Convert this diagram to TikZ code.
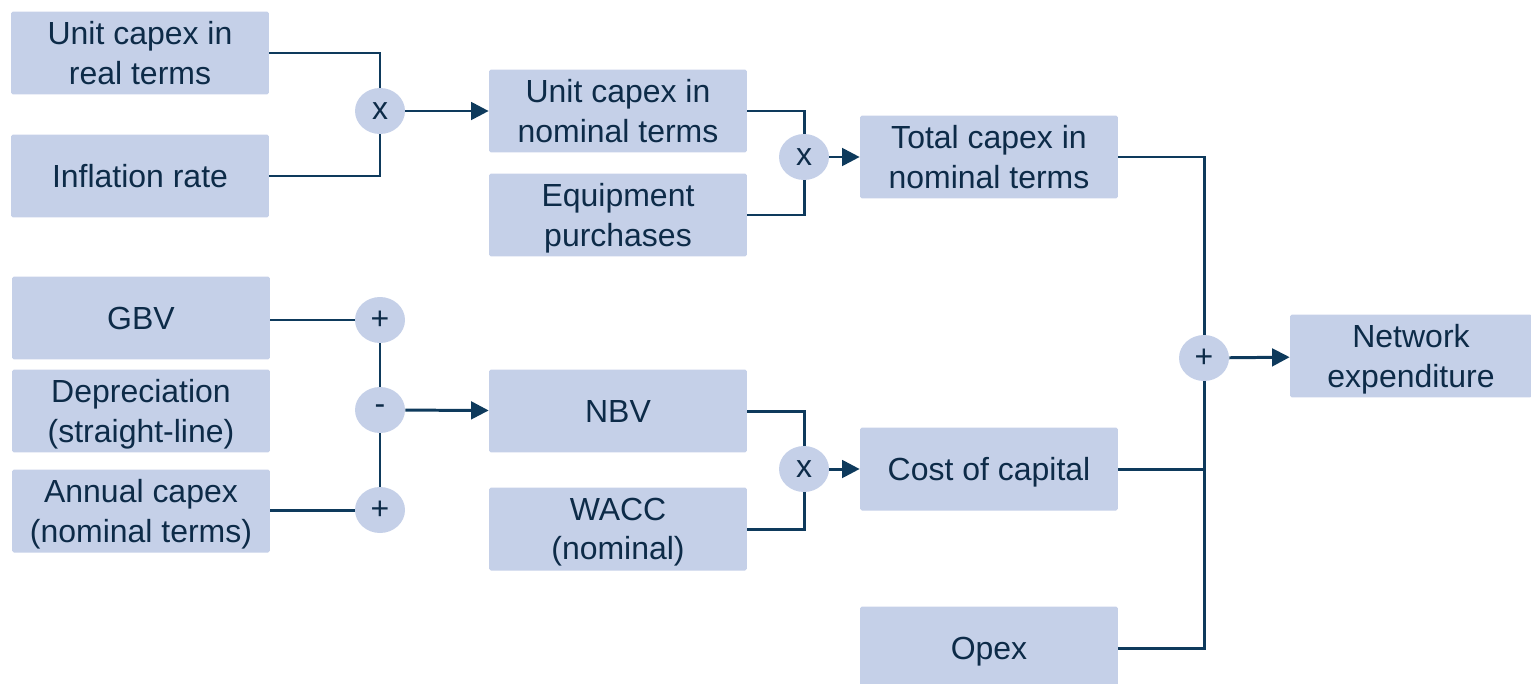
\documentclass[tikz,border=0pt]{standalone}
\usepackage{fontspec}
\setmainfont{Liberation Sans}
\usepackage{tikz}
\usetikzlibrary{arrows.meta,positioning,shapes.geometric}
\definecolor{boxfill}{HTML}{C5D0E8}
\definecolor{navy}{HTML}{0E3A5C}
\definecolor{inktext}{HTML}{0D2B48}

\begin{document}
\begin{tikzpicture}[
  x=0.02cm, y=-0.02cm,
  block/.style={fill=boxfill, rounded corners=1pt, minimum width=5.16cm,
    minimum height=1.66cm, align=center, text=inktext,
    font=\fontsize{18.2}{22.5}\selectfont, inner sep=0pt, text depth=0pt},
  op/.style={ellipse, fill=boxfill, minimum width=1cm, minimum height=0.92cm,
    inner sep=0pt, text=inktext, font=\fontsize{18.2}{22.5}\selectfont},
  link/.style={draw=navy, line width=1.7pt},
  arrow/.style={link, -{Triangle[length=10pt, width=10pt]}}
]
  \useasboundingbox (0,0) rectangle (1531,683);

  % Blocks
  \node[block] (real) at (140,53) {Unit capex in\\real terms};
  \node[block] (infl) at (140,176) {Inflation rate};
  \node[block] (unom) at (618,111) {Unit capex in\\nominal terms};
  \node[block] (equip) at (618,215) {Equipment\\purchases};
  \node[block] (total) at (989,157) {Total capex in\\nominal terms};
  \node[block] (gbv) at (141,318) {GBV};
  \node[block] (depr) at (141,411) {Depreciation\\(straight-line)};
  \node[block] (annual) at (141,511) {Annual capex\\(nominal terms)};
  \node[block] (nbv) at (618,411) {NBV};
  \node[block] (wacc) at (618,529) {WACC\\(nominal)};
  \node[block] (coc) at (989,469) {Cost of capital};
  \node[block] (opex) at (989,648) {Opex};
  \node[block, minimum width=4.84cm] (netexp) at (1411,356) {Network\\expenditure};

  % Operators
  \node[op] (mulA) at (380,111) {x};
  \node[op] (mulB) at (804,157) {x};
  \node[op] (addA) at (380,320) {+};
  \node[op] (sub) at (380,410) {-};
  \node[op] (addB) at (380,510) {+};
  \node[op] (mulC) at (804,469) {x};
  \node[op] (sum) at (1204,358) {+};

  % Connectors
  \draw[link] (real.east) -| (mulA.north);
  \draw[link] (infl.east) -| (mulA.south);
  \draw[arrow] (mulA) -- (unom);
  \draw[link] (unom.east) -| (mulB.north);
  \draw[link] (equip.east) -| (mulB.south);
  \draw[arrow] (mulB) -- (total);
  \draw[link] (gbv.east |- addA) -- (addA);
  \draw[link] (addA) -- (sub) -- (addB);
  \draw[link] (annual.east |- addB) -- (addB);
  \draw[arrow] (sub) -- (nbv);
  \draw[link] (nbv.east) -| (mulC.north);
  \draw[link] (wacc.east) -| (mulC.south);
  \draw[arrow] (mulC) -- (coc);
  \draw[link] (total.east) -| (sum.north);
  \draw[link] (opex.east) -| (sum.south);
  \draw[link] (coc.east) -- (coc.east -| sum);
  \draw[arrow] (sum) -- (netexp);
\end{tikzpicture}
\end{document}
